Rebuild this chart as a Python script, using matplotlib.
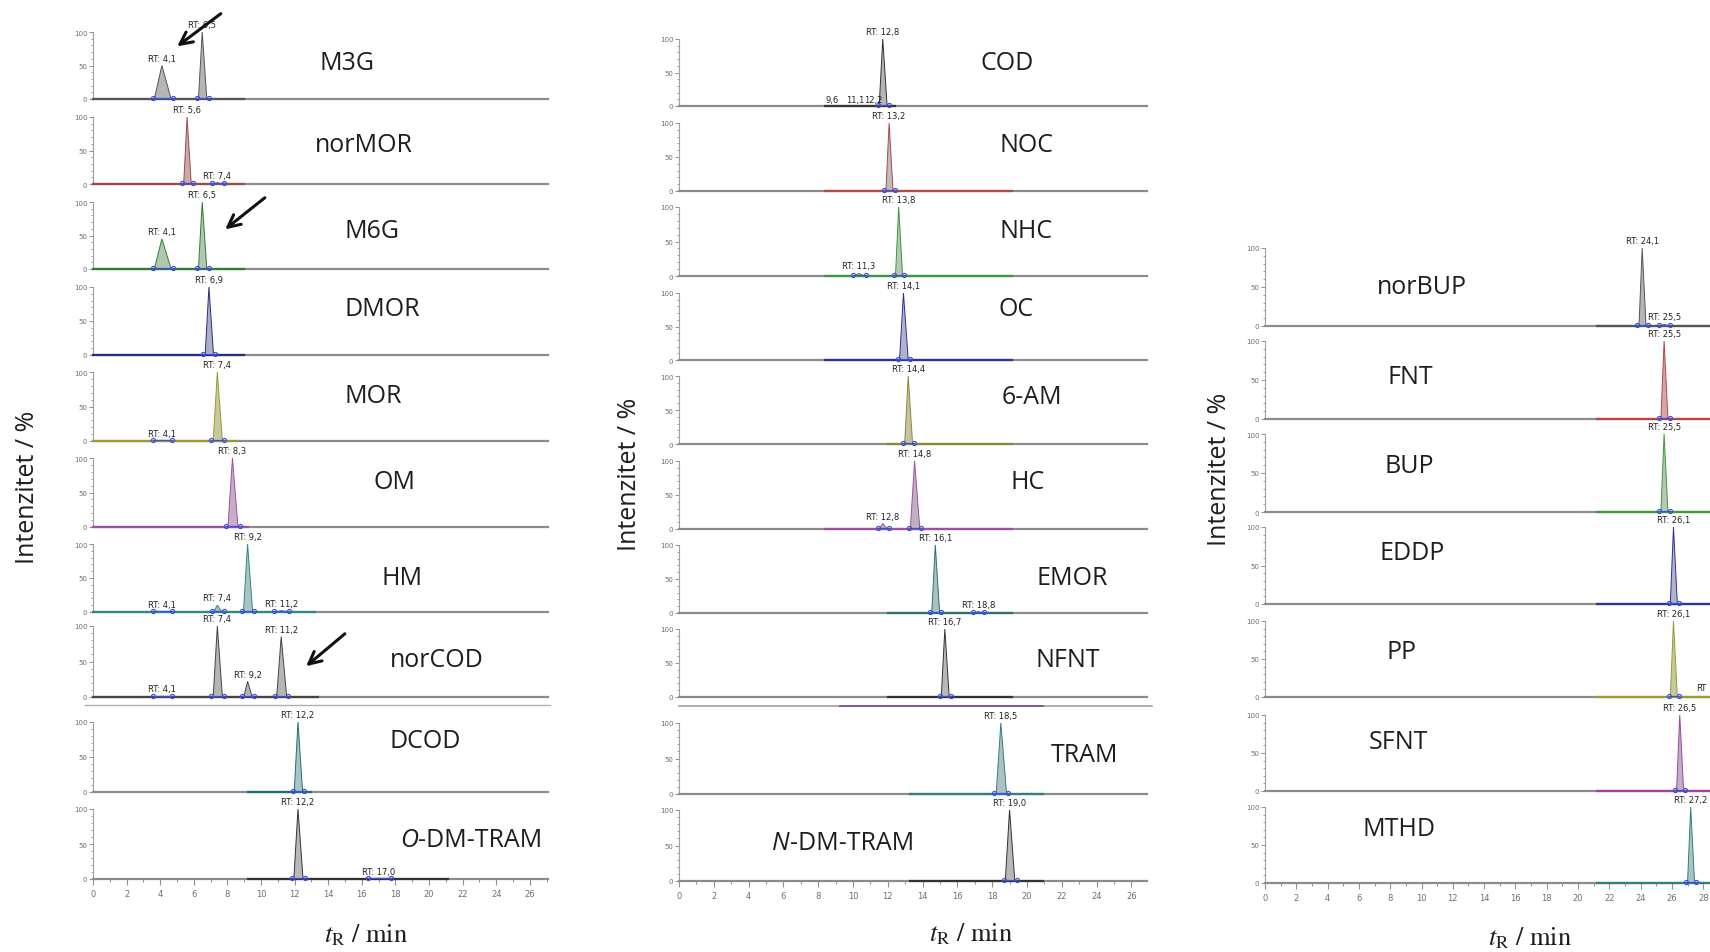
import matplotlib.pyplot as plt
from matplotlib.patches import FancyArrowPatch
from matplotlib.lines import Line2D
from matplotlib.ticker import MultipleLocator

plt.rcParams['mathtext.fontset'] = 'stix'

W, H = 1710, 953
fig = plt.figure(figsize=(W / 100, H / 100), dpi=100)

# ---------------- data (retention time, height %, base width in min)
names_l = ['M3G', 'norMOR', 'M6G', 'DMOR', 'MOR', 'OM', 'HM', 'norCOD', 'DCOD', 'O-DM-TRAM']
trace_l = [(0, 9.0), (0, 9.0), (0, 9.0), (0, 9.0), (0, 8.6), (0, 9.2),
           (0, 13.2), (0, 13.4), (9.2, 13.0), (9.2, 21.1)]
peaks_l = [
    [(4.1, 50, 1.0), (6.5, 100, 0.5)],
    [(5.6, 100, 0.45), (7.4, 2, 0.5)],
    [(4.1, 45, 1.0), (6.5, 100, 0.5)],
    [(6.9, 100, 0.5)],
    [(4.1, 1, 0.9), (7.4, 100, 0.55)],
    [(8.3, 100, 0.6)],
    [(4.1, 1, 0.9), (7.4, 10, 0.5), (9.2, 100, 0.55), (11.2, 2, 0.7)],
    [(4.1, 1, 0.9), (7.4, 100, 0.55), (9.2, 22, 0.5), (11.2, 85, 0.6)],
    [(12.2, 100, 0.5)],
    [(12.2, 100, 0.55), (17.0, 1, 1.2)],
]

names_m = ['COD', 'NOC', 'NHC', 'OC', '6-AM', 'HC', 'EMOR', 'NFNT', 'TRAM', 'N-DM-TRAM']
trace_m = [(9.2, 13.6), (9.2, 20.9), (9.2, 20.9), (9.2, 20.9), (13.1, 20.9),
           (9.2, 20.9), (13.1, 20.9), (13.1, 20.9), (13.3, 20.9), (13.3, 20.9)]
peaks_m = [
    [(12.8, 100, 0.5)],
    [(13.2, 100, 0.45)],
    [(11.3, 4, 0.6), (13.8, 100, 0.45)],
    [(14.1, 100, 0.55)],
    [(14.4, 100, 0.5)],
    [(12.8, 8, 0.5), (14.8, 100, 0.6)],
    [(16.1, 100, 0.5), (18.8, 2, 0.5)],
    [(16.7, 100, 0.5)],
    [(18.5, 100, 0.6)],
    [(19.0, 100, 0.55)],
]
cod_minor = [9.6, 11.1, 12.2]

names_r = ['norBUP', 'FNT', 'BUP', 'EDDP', 'PP', 'SFNT', 'MTHD']
trace_r = [(21.2, 29.5)] * 7
peaks_r = [
    [(24.1, 100, 0.45), (25.5, 2, 0.5)],
    [(25.5, 100, 0.45)],
    [(25.5, 100, 0.45)],
    [(26.1, 100, 0.45)],
    [(26.1, 100, 0.45), (28.9, 2, 0.4)],
    [(26.5, 100, 0.45)],
    [(27.2, 100, 0.45)],
]

# ---------------- styles / layout (pixels)
line_l = ['#555555', '#a04848', '#2e7d32', '#2a2a80', '#9a9a30', '#a050a0',
          '#2e8b80', '#444444', '#1f6f6f', '#333333']
fill_l = ['#b5b5b5', '#c9a9a9', '#b1c7b1', '#aab0c8', '#c8c8a0', '#c6aec6',
          '#a9c4c2', '#b5b5b5', '#a8c6c6', '#b8b8b8']
line_m = ['#333333', '#b04848', '#3a9a3a', '#3030a0', '#8a8a30', '#a050a0',
          '#2e7070', '#333333', '#2e8080', '#333333']
fill_m = ['#b5b5b5', '#bdbdbd', '#b4c8b4', '#b0b4c8', '#c4c4a4', '#c0b0c0',
          '#a8c0c0', '#b8b8b8', '#b0c0c0', '#b8b8b8']
line_r = ['#555555', '#c04040', '#3a9a3a', '#3030a0', '#9a9a30', '#a040a0', '#2e8080']
fill_r = ['#b5b5b5', '#d0a8a8', '#b4c8b4', '#b0b4c8', '#c8c8a0', '#c6aec6', '#a8c4c4']

base_l = [100, 185, 270, 356, 442, 528, 613, 698, 793, 880]
top_l = [33, 118, 203, 288, 373, 459, 545, 627, 723, 810]
base_m = [107, 192, 277, 361, 445, 530, 614, 698, 795, 882]
top_m = [40, 124, 208, 294, 377, 462, 546, 630, 724, 811]
base_r = [327, 420, 513, 605, 698, 792, 884]
top_r = [249, 342, 435, 528, 622, 716, 808]

lab_l = [(347, 64), (364, 145), (372, 232), (382, 309), (373, 397), (394, 483),
         (402, 579), (437, 661), (425, 742), (474, 841)]
lab_m = [(1007, 64), (1026, 145), (1026, 232), (1016, 309), (1032, 398), (1028, 483),
         (1072, 579), (1068, 661), (1084, 755), (846, 844)]
lab_r = [(1422, 288), (1410, 377), (1409, 467), (1412, 554), (1401, 653), (1398, 743), (1399, 830)]

BLUE = '#3b4fd8'
GRAY = '#6e6e6e'


def rt_text(rt):
    return f'{rt:.1f}'.replace('.', ',')


def panel(x0, x1, base, top, tmax, trace, peaks, lc, fc, bottom, tick_max):
    ax = fig.add_axes([x0 / W, 1 - base / H, (x1 - x0) / W, (base - top) / H])
    ax.patch.set_alpha(0)
    ax.set_xlim(0, tmax)
    ax.set_ylim(0, 100)
    ax.spines['top'].set_visible(False)
    ax.spines['right'].set_visible(False)
    ax.spines['left'].set_color('#a0a0a0')
    ax.spines['left'].set_linewidth(0.8)
    ax.spines['bottom'].set_color('#8c8c8c')
    ax.spines['bottom'].set_linewidth(1.6)

    ax.plot(trace, [0, 0], color=lc, lw=1.6, zorder=3, clip_on=False)
    for rt, h, w in peaks:
        ax.fill([rt - 0.45 * w, rt, rt + 0.55 * w], [0, h, 0], facecolor=fc,
                edgecolor=lc, lw=0.7, zorder=4, clip_on=False)
        ax.plot([rt - 0.45 * w - 0.1, rt + 0.55 * w + 0.1], [1.5, 1.5], color=BLUE,
                lw=0.9, marker='o', ms=3, mfc='none', mew=0.8, zorder=5, clip_on=False)
        if rt > tmax - 0.5:
            # label cut by the right border of the original screenshot
            ax.text(rt - 1.35, h + 4, 'RT', ha='left', va='bottom',
                    fontsize=6, color='#222222', clip_on=False, zorder=6)
        else:
            ax.text(rt, h + 4, 'RT: ' + rt_text(rt), ha='center', va='bottom',
                    fontsize=6, color='#222222', clip_on=False, zorder=6)

    ax.set_yticks([0, 50, 100])
    ax.yaxis.set_minor_locator(MultipleLocator(10))
    ax.tick_params(axis='y', which='major', length=3, width=0.7, color='#909090',
                   labelsize=5, labelcolor=GRAY, pad=1)
    ax.tick_params(axis='y', which='minor', length=1.5, width=0.6, color='#909090')
    if bottom:
        ax.set_xticks(range(0, tick_max + 1, 2))
        ax.xaxis.set_minor_locator(MultipleLocator(1))
        ax.tick_params(axis='x', which='major', length=4, width=0.8, color='#909090',
                       labelsize=6, labelcolor=GRAY, pad=3)
        ax.tick_params(axis='x', which='minor', length=2.5, width=0.7, color='#909090')
    else:
        ax.set_xticks([])
    return ax


def name_label(x, y, name):
    kw = dict(fontsize=18, family='Open Sans', color='#1e1e1e', va='center')
    if name.startswith(('O-', 'N-')):
        split = x - 56
        fig.text(split / W, 1 - y / H, name[0], ha='right', style='italic', **kw)
        fig.text(split / W, 1 - y / H, name[1:], ha='left', **kw)
    else:
        fig.text(x / W, 1 - y / H, name, ha='center', **kw)


# left column
for i, nm in enumerate(names_l):
    panel(93, 548, base_l[i], top_l[i], 27.08, trace_l[i], peaks_l[i],
          line_l[i], fill_l[i], i == len(names_l) - 1, 26)
    name_label(lab_l[i][0], lab_l[i][1], nm)

# middle column (upper screenshots use a longer time window)
for i, nm in enumerate(names_m):
    tmax = 29.4 if i < 8 else 26.9
    ax = panel(679, 1147, base_m[i], top_m[i], tmax, trace_m[i], peaks_m[i],
               line_m[i], fill_m[i], i == len(names_m) - 1, 26)
    if nm == 'COD':
        for rt in cod_minor:
            ax.text(rt, 3, rt_text(rt), ha='center', va='bottom', fontsize=6,
                    color='#222222', zorder=6)
    name_label(lab_m[i][0], lab_m[i][1], nm)

# right column (cut at the right border)
for i, nm in enumerate(names_r):
    panel(1265, 1722, base_r[i], top_r[i], 29.2, trace_r[i], peaks_r[i],
          line_r[i], fill_r[i], i == len(names_r) - 1, 28)
    name_label(lab_r[i][0], lab_r[i][1], nm)

# separator lines from the pasted screenshots
fig.add_artist(Line2D([85 / W, 550 / W], [1 - 706 / H] * 2, color='#b0b0b0', lw=1))
fig.add_artist(Line2D([679 / W, 1152 / W], [1 - 707 / H] * 2, color='#a0a0a0', lw=1.2))
fig.add_artist(Line2D([840 / W, 1043 / W], [1 - 707 / H] * 2, color='#7a4a8a', lw=1.2))

# arrows
for (xa, ya), (xb, yb) in [((223, 13), (175, 49)), ((267, 197), (223, 232)),
                           ((347, 633), (304, 669))]:
    fig.add_artist(FancyArrowPatch((xa / W, 1 - ya / H), (xb / W, 1 - yb / H),
                                   transform=fig.transFigure, arrowstyle='->',
                                   mutation_scale=22, lw=2.2, color='#111111'))

# axis titles
for x, y in [(27, 487), (629, 474), (1219, 469)]:
    fig.text(x / W, 1 - y / H, 'Intenzitet / %', rotation=90, ha='center', va='center',
             fontsize=18, family='Open Sans', color='#1e1e1e')
for x, y in [(366, 936), (971, 935), (1530, 939)]:
    fig.text(x / W, 1 - y / H, r'$t_\mathrm{R}$ / min', ha='center', va='center',
             fontsize=19, family='STIXGeneral', color='#1e1e1e')

fig.savefig('out.png', dpi=100)
